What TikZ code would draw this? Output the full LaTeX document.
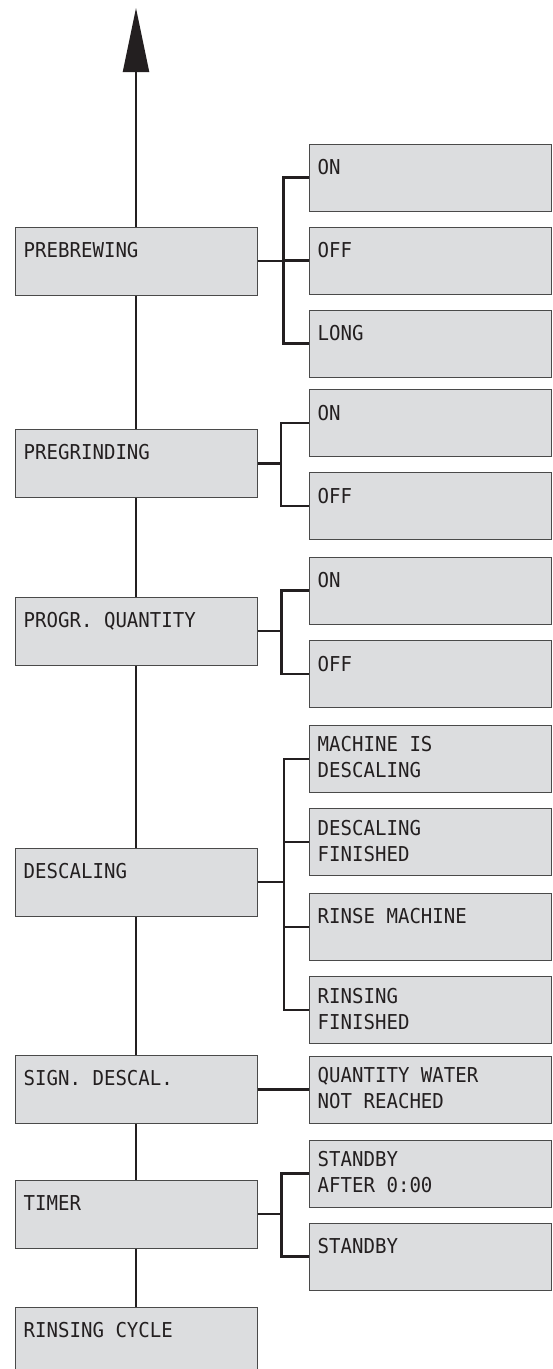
\documentclass[tikz,border=0pt]{standalone}
\usepackage{fontspec}
\usetikzlibrary{arrows.meta}
\newfontfamily\lcdfont[FakeStretch=0.93]{DejaVu Sans Mono}
\definecolor{panel}{HTML}{DCDDDF}
\definecolor{rim}{HTML}{4A4A4A}
\definecolor{ink}{HTML}{231F20}
\tikzset{
  x=1pt, y=-1pt,
  wire/.style={draw=ink, line width=2.2pt},
  lab/.style={anchor=north west, inner sep=0pt, xshift=9pt, yshift=-15.5pt,
    align=left, text=ink, font=\lcdfont\fontsize{20.5}{26}\selectfont},
  menu/.style={draw=rim, line width=1pt, fill=panel, minimum width=242pt,
    minimum height=68pt, inner sep=0pt, label={[lab]north west:#1}},
  option/.style={menu=#1, minimum height=67pt},
  % two-line texts sit a little higher in their box
  option2/.style={draw=rim, line width=1pt, fill=panel, minimum width=242pt,
    minimum height=67pt, inner sep=0pt, label={[lab, yshift=4pt]north west:#1}}
}
\begin{document}
\begin{tikzpicture}
\useasboundingbox (0,0) rectangle (553,1369);
\clip (0,0) rectangle (553,1369);

% main menu entries
\node[menu={PREBREWING}]      (pb) at (136,261) {};
\node[menu={PREGRINDING}]     (pg) at (136,463.5) {};
\node[menu={PROGR. QUANTITY}] (pq) at (136,631) {};
\node[menu={DESCALING}]       (ds) at (136,882) {};
\node[menu={SIGN. DESCAL.}]   (sd) at (136,1089.5) {};
\node[menu={TIMER}]           (tm) at (136,1214) {};
\node[menu={RINSING CYCLE}]   (rc) at (136,1341) {};

% sub-menu options
\node[option={ON}]   (pbon)   at (430,177.5) {};
\node[option={OFF}]  (pboff)  at (430,260.5) {};
\node[option={LONG}] (pblong) at (430,343.5) {};

\node[option={ON}]  (pgon)  at (430,423.3) {};
\node[option={OFF}] (pgoff) at (430,506.3) {};

\node[option={ON}]  (pqon)  at (430,590.5) {};
\node[option={OFF}] (pqoff) at (430,674.2) {};

\node[option2={MACHINE IS\\DESCALING}] (ds1) at (430,758.8) {};
\node[option2={DESCALING\\FINISHED}]   (ds2) at (430,842.2) {};
\node[option={RINSE MACHINE}]          (ds3) at (430,927) {};
\node[option2={RINSING\\FINISHED}]     (ds4) at (430,1010.2) {};

\node[option2={QUANTITY WATER\\NOT REACHED}] (qw) at (430,1089.5) {};

\node[option2={STANDBY\\AFTER 0:00}] (sb1) at (430,1173.5) {};
\node[option={STANDBY}]              (sb2) at (430,1256.5) {};

% upward arrow and main trunk
\coordinate (top) at (136,8);
\draw[wire, -{Triangle[length=64pt, width=26pt]}] (pb.north) -- (top);
\draw[wire] (pb.south) -- (pg.north);
\draw[wire] (pg.south) -- (pq.north);
\draw[wire] (pq.south) -- (ds.north);
\draw[wire] (ds.south) -- (sd.north);
\draw[wire] (sd.south) -- (tm.north);
\draw[wire] (tm.south) -- (rc.north);

% branches to the options
\foreach \c in {pbon,pboff,pblong}
  \draw[wire] (pb.east) -- ++(26,0) |- (\c.west);
\foreach \c in {pgon,pgoff}
  \draw[wire] (pg.east) -- ++(23.5,0) |- (\c.west);
\foreach \c in {pqon,pqoff}
  \draw[wire] (pq.east) -- ++(24,0) |- (\c.west);
\foreach \c in {ds1,ds2,ds3,ds4}
  \draw[wire] (ds.east) -- ++(26.5,0) |- (\c.west);
\draw[wire] (sd.east) -- (qw.west);
\foreach \c in {sb1,sb2}
  \draw[wire] (tm.east) -- ++(24,0) |- (\c.west);
\end{tikzpicture}
\end{document}
